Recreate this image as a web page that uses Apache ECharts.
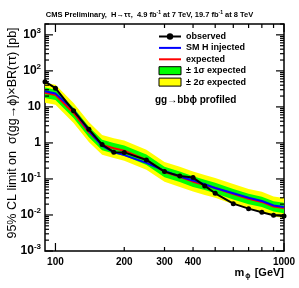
<!DOCTYPE html>
<html>
<head>
<meta charset="utf-8">
<script src="https://cdn.jsdelivr.net/npm/echarts@6/dist/echarts.min.js"></script>
<style>html,body{margin:0;padding:0;background:#fff;}#c{width:299px;height:288px;}</style>
</head>
<body>
<div id="c"></div>
<script>
// ---- data ----
const masses     = [90, 100, 120, 140, 160, 180, 200, 250, 300, 350, 400, 450, 500, 600, 700, 800, 900, 1000];
const observed   = [50, 33, 7.8, 2.4, 0.90, 0.555, 0.545, 0.337, 0.16, 0.121, 0.109, 0.064, 0.040, 0.0206, 0.015, 0.0119, 0.0098, 0.0093];
const smInjected = [27, 23.7, 8.3, 2.15, 0.83, 0.56, 0.46, 0.28, 0.167, 0.117, 0.091, 0.071, 0.056, 0.040, 0.030, 0.0245, 0.0184, 0.0166];
const expected   = [24.5, 21.5, 6.8, 2.0, 0.88, 0.71, 0.61, 0.34, 0.156, 0.114, 0.084, 0.068, 0.056, 0.038, 0.028, 0.023, 0.0172, 0.0156];
const plus2      = [46.5, 40.9, 12.9, 3.8, 1.67, 1.35, 1.16, 0.646, 0.296, 0.217, 0.160, 0.129, 0.106, 0.072, 0.053, 0.044, 0.0327, 0.0296];
const plus1      = [34.3, 30.1, 9.5, 2.8, 1.23, 0.99, 0.85, 0.476, 0.218, 0.160, 0.118, 0.095, 0.078, 0.053, 0.039, 0.032, 0.0241, 0.0218];
const minus1     = [17.6, 15.5, 4.9, 1.44, 0.63, 0.51, 0.44, 0.245, 0.112, 0.082, 0.060, 0.049, 0.040, 0.027, 0.020, 0.0166, 0.0124, 0.0112];
const minus2     = [13.0, 11.4, 3.6, 1.06, 0.47, 0.38, 0.32, 0.18, 0.083, 0.060, 0.045, 0.036, 0.030, 0.020, 0.0148, 0.0122, 0.0091, 0.0083];

const xLabels     = [100, 200, 300, 400, 1000];
const xMajorTicks = [100, 1000];
const xMinorTicks = [200, 300, 400, 500, 600, 700, 800, 900];
const yMajorTicks = [0.001, 0.01, 0.1, 1, 10, 100, 1000];
const yMinorTicks = [];
yMajorTicks.forEach(d => { for (let k = 2; k <= 9; k++) { if (d * k <= 2000) yMinorTicks.push(+(d * k).toPrecision(3)); } });

const X_MIN = 90, X_MAX = 1000, Y_MIN = 0.001, Y_MAX = 2000;
const FONT = 'Liberation Sans';

const chart = echarts.init(document.getElementById('c'), null, {renderer: 'canvas'});

function pairs(arr) { return masses.map((m, i) => [m, arr[i]]); }

function bandRenderer(upper, lower, color) {
  return function (params, api) {
    if (params.dataIndex !== 0) return;
    const pts = [];
    for (let i = 0; i < masses.length; i++) pts.push(api.coord([masses[i], upper[i]]));
    for (let i = masses.length - 1; i >= 0; i--) pts.push(api.coord([masses[i], lower[i]]));
    return {type: 'polygon', shape: {points: pts}, style: {fill: color, stroke: null}};
  };
}

// frame ticks (ROOT style, inside, on all four sides) positioned through the axis scales
function tickRenderer(params, api) {
  if (params.dataIndex !== 0) return;
  const bl = api.coord([X_MIN, Y_MIN]);
  const tr = api.coord([X_MAX, Y_MAX]);
  const children = [];
  const st = {stroke: '#000', lineWidth: 1.2};
  function vx(v, len) {
    const x = api.coord([v, Y_MIN])[0];
    children.push({type: 'line', shape: {x1: x, y1: bl[1], x2: x, y2: bl[1] - len}, style: st});
    children.push({type: 'line', shape: {x1: x, y1: tr[1], x2: x, y2: tr[1] + len}, style: st});
  }
  function hy(v, len) {
    const y = api.coord([X_MIN, v])[1];
    children.push({type: 'line', shape: {x1: bl[0], y1: y, x2: bl[0] + len, y2: y}, style: st});
    children.push({type: 'line', shape: {x1: tr[0], y1: y, x2: tr[0] - len, y2: y}, style: st});
  }
  xMajorTicks.forEach(v => vx(v, 8));
  xMinorTicks.forEach(v => vx(v, 4));
  yMajorTicks.forEach(v => hy(v, 8));
  yMinorTicks.forEach(v => hy(v, 4));
  return {type: 'group', children: children};
}

function yFmt(v) {
  const e = Math.round(Math.log10(v));
  if (e === 0) return '{b|1}';
  if (e === 1) return '{b|10}';
  return '{b|10}{s|' + e + '}';
}

const noLegendSymbol = {color: 'transparent', borderWidth: 0, opacity: 0};

const option = {
  animation: false,
  backgroundColor: '#fff',
  grid: {left: 45, right: 15, top: 24, bottom: 37, show: true, borderColor: '#000', borderWidth: 1.5, backgroundColor: 'transparent'},
  xAxis: {type: 'log', min: X_MIN, max: X_MAX, splitLine: {show: false}, axisLine: {show: false},
    axisTick: {show: false},
    axisLabel: {show: true, customValues: xLabels, margin: 6, color: '#000', fontFamily: FONT, fontWeight: 'bold', fontSize: 10,
      formatter: v => String(Math.round(v))}},
  yAxis: {type: 'log', min: Y_MIN, max: Y_MAX, splitLine: {show: false}, axisLine: {show: false},
    axisTick: {show: false},
    axisLabel: {show: true, customValues: yMajorTicks, margin: 4, color: '#000', formatter: yFmt,
      rich: {b: {fontFamily: FONT, fontWeight: 'bold', fontSize: 12, color: '#000'},
             s: {fontFamily: FONT, fontWeight: 'bold', fontSize: 8, color: '#000', padding: [0, 0, 8, 0]}}}},
  legend: {
    orient: 'vertical', left: 153, top: 27, itemWidth: 22, itemHeight: 8, itemGap: 2.4,
    textStyle: {fontFamily: FONT, fontWeight: 'bold', fontSize: 9, color: '#000', lineHeight: 9},
    selectedMode: false,
    data: [
      {name: 'observed', itemStyle: {color: '#000'}},
      {name: 'SM H injected', itemStyle: noLegendSymbol},
      {name: 'expected', itemStyle: noLegendSymbol},
      {name: '± 1σ expected', icon: 'rect', itemStyle: {color: '#00ff00', borderColor: '#000', borderWidth: 1}},
      {name: '± 2σ expected', icon: 'rect', itemStyle: {color: '#ffff00', borderColor: '#000', borderWidth: 1}}
    ]
  },
  graphic: [
    {type: 'text', left: 'center', top: 10, style: {
      text: 'CMS Preliminary,  H→ττ,  4.9 fb{s|-1} at 7 TeV, 19.7 fb{s|-1} at 8 TeV',
      font: 'bold 7.5px ' + FONT, fill: '#000',
      rich: {s: {font: 'bold 5px ' + FONT, fill: '#000', padding: [0, 0, 4, 0]}}}},
    {type: 'text', x: 155, y: 100, style: {text: 'gg→bbϕ profiled', font: 'bold 10px ' + FONT, fill: '#000', verticalAlign: 'middle'}},
    {type: 'text', x: 13, y: 133, rotation: Math.PI / 2, style: {
      text: '95% CL limit on  σ(gg→ϕ)×BR(ττ) [pb]', font: '12.5px ' + FONT, fill: '#000', align: 'center', verticalAlign: 'middle'}},
    {type: 'text', x: 284, y: 273, style: {
      text: 'm{sub|ϕ} [GeV]', font: 'bold 11px ' + FONT, fill: '#000', align: 'right', verticalAlign: 'middle',
      rich: {sub: {font: 'bold 7px ' + FONT, fill: '#000', padding: [6, 1, 0, 1]}}}}
  ],
  series: [
    {name: '± 2σ expected', type: 'custom', clip: true, z: 1,
     itemStyle: {color: '#ffff00', borderColor: '#000', borderWidth: 1},
     renderItem: bandRenderer(plus2, minus2, '#ffff00'), data: pairs(expected)},
    {name: '± 1σ expected', type: 'custom', clip: true, z: 1,
     itemStyle: {color: '#00ff00', borderColor: '#000', borderWidth: 1},
     renderItem: bandRenderer(plus1, minus1, '#00ff00'), data: pairs(expected)},
    {name: 'expected', type: 'line', symbol: 'none', showSymbol: false, z: 2, data: pairs(expected),
     lineStyle: {color: '#ff0000', width: 2}, itemStyle: {color: '#ff0000'}},
    {name: 'SM H injected', type: 'line', symbol: 'none', showSymbol: false, z: 3, data: pairs(smInjected),
     lineStyle: {color: '#0000ff', width: 2}, itemStyle: {color: '#0000ff'}},
    {name: 'observed', type: 'line', symbol: 'circle', symbolSize: 5, z: 4, data: pairs(observed),
     lineStyle: {color: '#000', width: 2}, itemStyle: {color: '#000'}},
    {name: 'frameTicks', type: 'custom', clip: false, z: 10, silent: true,
     renderItem: tickRenderer, data: [[X_MIN, Y_MIN]]}
  ]
};
chart.setOption(option);
</script>
</body>
</html>
